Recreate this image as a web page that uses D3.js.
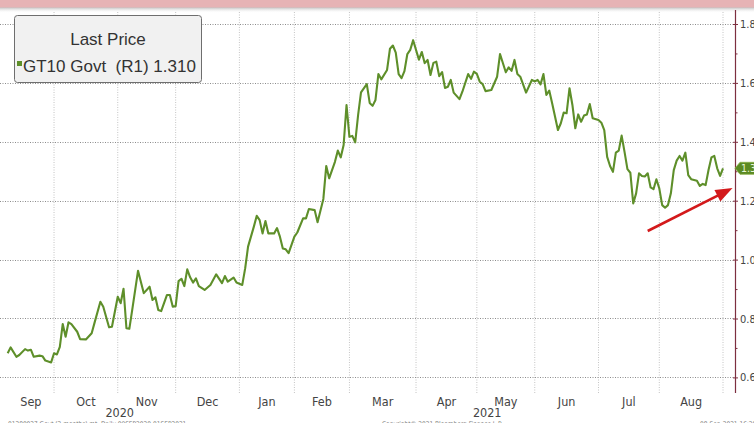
<!DOCTYPE html>
<html><head><meta charset="utf-8">
<script src="https://cdn.jsdelivr.net/npm/d3@7"></script>
<style>body{margin:0;background:#fff;overflow:hidden} svg{display:block}</style>
</head><body><svg id="c" width="754" height="423"></svg>
<script>
// ---- data ----
const dates = [
"2020-09-09","2020-09-10","2020-09-14","2020-09-15","2020-09-17","2020-09-18","2020-09-21","2020-09-22","2020-09-24","2020-09-25","2020-09-28","2020-09-30",
"2020-10-01","2020-10-02","2020-10-05","2020-10-06","2020-10-07","2020-10-08","2020-10-09","2020-10-13","2020-10-14","2020-10-16","2020-10-20","2020-10-21","2020-10-23","2020-10-26","2020-10-28","2020-10-29",
"2020-11-02","2020-11-03","2020-11-04","2020-11-05","2020-11-06","2020-11-09","2020-11-11","2020-11-13","2020-11-17","2020-11-18","2020-11-19","2020-11-20","2020-11-23","2020-11-25","2020-11-27","2020-11-30",
"2020-12-01","2020-12-02","2020-12-03","2020-12-04","2020-12-07","2020-12-08","2020-12-09","2020-12-10","2020-12-11","2020-12-15","2020-12-17","2020-12-21","2020-12-23","2020-12-24","2020-12-28","2020-12-30","2020-12-31",
"2021-01-05","2021-01-06","2021-01-07","2021-01-11","2021-01-12","2021-01-13","2021-01-14","2021-01-15","2021-01-19","2021-01-21","2021-01-22","2021-01-25","2021-01-26","2021-01-27","2021-01-28","2021-01-29",
"2021-02-01","2021-02-02","2021-02-04","2021-02-05","2021-02-08","2021-02-10","2021-02-11","2021-02-16","2021-02-17","2021-02-18","2021-02-22","2021-02-23","2021-02-24","2021-02-25","2021-02-26",
"2021-03-01","2021-03-02","2021-03-03","2021-03-04","2021-03-05","2021-03-09","2021-03-10","2021-03-11","2021-03-12","2021-03-15","2021-03-16","2021-03-18","2021-03-19","2021-03-22","2021-03-23","2021-03-24","2021-03-25","2021-03-26","2021-03-29","2021-03-30","2021-03-31",
"2021-04-05","2021-04-06","2021-04-07","2021-04-08","2021-04-09","2021-04-12","2021-04-13","2021-04-14","2021-04-15","2021-04-16","2021-04-19","2021-04-20","2021-04-21","2021-04-23","2021-04-26","2021-04-28","2021-04-29","2021-04-30",
"2021-05-03","2021-05-04","2021-05-05","2021-05-06","2021-05-10","2021-05-12","2021-05-13","2021-05-17","2021-05-18","2021-05-19","2021-05-20","2021-05-21","2021-05-24","2021-05-26","2021-05-28",
"2021-06-01","2021-06-02","2021-06-03","2021-06-04","2021-06-07","2021-06-08","2021-06-09","2021-06-11","2021-06-14","2021-06-15","2021-06-16","2021-06-17","2021-06-18","2021-06-21","2021-06-22","2021-06-23","2021-06-24","2021-06-25","2021-06-28","2021-06-29",
"2021-07-01","2021-07-02","2021-07-06","2021-07-07","2021-07-08","2021-07-09","2021-07-12","2021-07-13","2021-07-14","2021-07-15","2021-07-16","2021-07-19","2021-07-20","2021-07-21","2021-07-22","2021-07-23","2021-07-26","2021-07-27","2021-07-28","2021-07-29","2021-07-30",
"2021-08-02","2021-08-03","2021-08-04","2021-08-05","2021-08-06","2021-08-09","2021-08-10","2021-08-11","2021-08-12","2021-08-13","2021-08-16","2021-08-17","2021-08-19","2021-08-20","2021-08-23","2021-08-24","2021-08-25","2021-08-26","2021-08-27","2021-08-30","2021-08-31",
"2021-09-01"
];
const values = [
0.682,0.702,0.670,0.676,0.696,0.691,0.694,0.670,0.674,0.672,0.657,0.651,
0.682,0.678,0.704,0.781,0.738,0.787,0.781,0.755,0.730,0.729,0.750,0.786,0.857,0.840,0.770,0.772,
0.874,0.852,0.901,0.767,0.765,0.829,0.962,0.886,0.908,0.863,0.872,0.829,0.825,0.880,0.880,0.840,
0.842,0.927,0.935,0.910,0.967,0.940,0.922,0.936,0.910,0.897,0.914,0.950,0.920,0.944,0.925,0.939,0.922,
0.914,0.970,1.044,1.112,1.149,1.134,1.089,1.131,1.089,1.089,1.107,1.078,1.038,1.035,1.022,1.050,
1.078,1.092,1.140,1.140,1.172,1.168,1.127,1.206,1.318,1.276,1.332,1.370,1.347,1.389,1.525,
1.417,1.420,1.398,1.491,1.568,1.596,1.532,1.522,1.542,1.630,1.612,1.644,1.716,1.727,1.703,1.630,1.616,1.640,1.698,1.712,1.745,
1.679,1.705,1.667,1.678,1.627,1.668,1.672,1.623,1.637,1.583,1.587,1.610,1.567,1.545,1.570,1.630,1.614,1.638,
1.631,1.604,1.596,1.572,1.576,1.621,1.698,1.636,1.653,1.641,1.678,1.630,1.621,1.567,1.610,
1.605,1.610,1.595,1.630,1.559,1.574,1.531,1.440,1.463,1.499,1.497,1.582,1.525,1.446,1.493,1.468,1.489,1.493,1.528,1.480,
1.474,1.465,1.440,1.349,1.318,1.298,1.363,1.370,1.421,1.366,1.307,1.295,1.191,1.225,1.293,1.284,1.282,1.293,1.245,1.239,1.273,
1.242,1.185,1.176,1.185,1.225,1.304,1.336,1.352,1.336,1.363,1.287,1.273,1.268,1.250,1.257,1.253,1.304,1.347,1.352,1.310,1.284,
1.310
];
const monthLabels = ["Sep","Oct","Nov","Dec","Jan","Feb","Mar","Apr","May","Jun","Jul","Aug"];
const yearLabels = ["2020","2021"];
const yTicks = [0.6,0.8,1.0,1.2,1.4,1.6,1.8];
const yMinorTicks = [0.7,0.9,1.1,1.3,1.5,1.7];
const holidays = ["2020-11-26","2020-12-25","2021-01-01","2021-01-18","2021-02-15","2021-04-02","2021-05-31","2021-07-05"];
const seriesName = "GT10 Govt";
const seriesTag = "(R1)";
const lastPrice = 1.310;
const legendTitle = "Last Price";
const arrowFrom = ["2021-07-27", 1.097];
const arrowTo = [250.3, 1.243]; // trading-day position, value

// ---- layout ----
const W = 754, H = 423;
const plotL = 0, plotR = 735, plotT = 10, plotB = 393;
const svg = d3.select("#c");
const fmt = d3.utcFormat("%Y-%m-%d");
const parse = d3.utcParse("%Y-%m-%d");

// trading calendar
const hol = new Set(holidays);
const tradingDays = d3.utcDay.range(parse(dates[0]), d3.utcDay.offset(parse(dates[dates.length-1]),1))
  .filter(d => d.getUTCDay() !== 0 && d.getUTCDay() !== 6 && !hol.has(fmt(d)));
const idx = new Map(tradingDays.map((d,i)=>[fmt(d), i]));

const x = d3.scaleLinear().domain([0, tradingDays.length-1]).range([7.7, 723]);
const y = d3.scaleLinear().domain([0.6, 1.8]).range([377.4, 24]);

const data = dates.map((d,i)=>({t: idx.get(d), v: values[i]}));

// background
svg.append("rect").attr("width",W).attr("height",H).attr("fill","#fff");
const defs = svg.append("defs");
const g1 = defs.append("linearGradient").attr("id","sh").attr("x1",0).attr("x2",0).attr("y1",0).attr("y2",1);
g1.append("stop").attr("offset","0%").attr("stop-color","#9a9a9a").attr("stop-opacity",0.7);
g1.append("stop").attr("offset","100%").attr("stop-color","#ffffff").attr("stop-opacity",0);
svg.append("rect").attr("x",0).attr("y",7).attr("width",W).attr("height",6).attr("fill","url(#sh)");
svg.append("rect").attr("x",0).attr("y",0).attr("width",W).attr("height",7.5).attr("fill","#e6b3b5");

// month boundaries
const bounds = [];
for (let i=1;i<tradingDays.length;i++){
  if (tradingDays[i].getUTCMonth() !== tradingDays[i-1].getUTCMonth()) bounds.push(i);
}
// vertical grid
svg.append("g").selectAll("line").data(bounds).join("line")
  .attr("x1",d=>x(d)).attr("x2",d=>x(d)).attr("y1",12).attr("y2",plotB)
  .attr("stroke","#c4c4c4").attr("stroke-width",1).attr("stroke-dasharray","1,1.5");
// horizontal grid
svg.append("g").selectAll("line").data(yTicks).join("line")
  .attr("x1",plotL).attr("x2",plotR).attr("y1",d=>Math.round(y(d))+0.5).attr("y2",d=>Math.round(y(d))+0.5)
  .attr("stroke","#8c8c8c").attr("stroke-width",1).attr("stroke-dasharray","1,1.5");

// line
defs.append("clipPath").attr("id","clip").append("rect")
  .attr("x",plotL).attr("y",plotT).attr("width",plotR-plotL).attr("height",plotB-plotT);
svg.append("path").datum(data)
  .attr("clip-path","url(#clip)")
  .attr("d", d3.line().x(d=>x(d.t)).y(d=>y(d.v)))
  .attr("fill","none").attr("stroke","#5e8f2a").attr("stroke-width",2.1).attr("stroke-linejoin","round");

// month labels
const segs = [0, ...bounds];
const mFont = "'Liberation Sans Narrow','DejaVu Sans Condensed','Arial Narrow',sans-serif";
svg.append("g").selectAll("text").data(monthLabels).join("text")
  .attr("x",(d,i)=>(x(segs[i]) + x(segs[i+1]))/2).attr("y",406)
  .attr("text-anchor","middle").attr("font-family",mFont).attr("font-size",12.5).attr("fill","#444")
  .text(d=>d);
const janIdx = bounds[3];
const yearX = [(plotL + x(janIdx))/2, (x(janIdx)+plotR)/2];
svg.append("g").selectAll("text").data(yearLabels).join("text")
  .attr("x",(d,i)=>yearX[i]).attr("y",417)
  .attr("text-anchor","middle").attr("font-family",mFont).attr("font-size",12.5).attr("fill","#444")
  .text(d=>d);

// right axis
const ax = svg.append("g").attr("transform",`translate(${plotR},0)`);
ax.append("line").attr("x1",0.5).attr("x2",0.5).attr("y1",plotT).attr("y2",plotB).attr("stroke","#7d2f40").attr("stroke-width",1.2);
ax.call(d3.axisRight(y).tickValues(yTicks).tickFormat(d3.format(".2f")).tickSize(3).tickPadding(2))
  .call(g=>g.select(".domain").remove())
  .call(g=>g.selectAll(".tick line").attr("stroke","#7d2f40").attr("x1",-2))
  .call(g=>g.selectAll(".tick text").attr("font-family",mFont).attr("font-size",11).attr("fill","#444"));
const ax2 = svg.append("g").attr("transform",`translate(${plotR},0)`);
ax2.call(d3.axisRight(y).tickValues(yMinorTicks).tickFormat("").tickSize(2.5))
  .call(g=>g.select(".domain").remove())
  .call(g=>g.selectAll(".tick line").attr("stroke","#7d2f40"));

// last price tag
const ly = y(lastPrice);
const tag = svg.append("g").attr("transform",`translate(${plotR},${ly})`);
tag.append("path").attr("d","M0,0 L5,-6 L22,-6 L22,6 L5,6 Z").attr("fill","#5b8a22").attr("stroke","#8ab04a").attr("stroke-width",0.8);
tag.append("text").attr("x",6).attr("y",3.8).attr("font-family",mFont).attr("font-size",10.5).attr("fill","#eaf6d8")
  .text(d3.format(".2f")(lastPrice));

// red arrow annotation
const ax0 = x(idx.get(arrowFrom[0])), ay0 = y(arrowFrom[1]);
const ax1 = x(arrowTo[0]), ay1 = y(arrowTo[1]);
const dx = ax1-ax0, dy = ay1-ay0, L = Math.hypot(dx,dy), ux = dx/L, uy = dy/L;
const hl = 17, hw = 6.5;
const bx = ax1-ux*hl, by = ay1-uy*hl;
svg.append("line").attr("x1",ax0).attr("y1",ay0).attr("x2",bx+ux*2).attr("y2",by+uy*2)
  .attr("stroke","#d3191b").attr("stroke-width",2.6);
svg.append("path").attr("d",`M${ax1},${ay1} L${bx-uy*hw},${by+ux*hw} L${bx+uy*hw},${by-ux*hw} Z`).attr("fill","#d3191b");

// legend
const lg = svg.append("g");
lg.append("rect").attr("x",14.5).attr("y",15.5).attr("width",187).attr("height",67).attr("rx",3)
  .attr("fill","#f1f1f1").attr("stroke","#6e6e6e").attr("stroke-width",1);
const lFont = "'Liberation Sans',Arial,sans-serif";
lg.append("text").attr("x",108).attr("y",45).attr("text-anchor","middle").attr("font-family",lFont)
  .attr("font-size",17).attr("fill","#333").text(legendTitle);
lg.append("rect").attr("x",17).attr("y",61).attr("width",5).attr("height",5).attr("fill","#5e8f2a");
lg.append("text").attr("x",23).attr("y",72).attr("font-family",lFont).attr("font-size",17).attr("fill","#333")
  .attr("xml:space","preserve").style("white-space","pre")
  .text(`${seriesName}  ${seriesTag} ${d3.format(".3f")(lastPrice)}`);

// footer
const fF = "'Liberation Sans Narrow','DejaVu Sans Condensed',sans-serif";
svg.append("text").attr("x",8).attr("y",425.5).attr("font-family",fF).attr("font-size",6.5).attr("fill","#777")
  .text("01280027 Govt (2 months) mt, Daily 09SEP2020-01SEP2021");
svg.append("text").attr("x",382).attr("y",425.5).attr("font-family",fF).attr("font-size",6.5).attr("fill","#777")
  .text("Copyright© 2021 Bloomberg Finance L.P.");
svg.append("text").attr("x",700).attr("y",425.5).attr("font-family",fF).attr("font-size",6.5).attr("fill","#777")
  .text("08-Sep-2021 16:20:19");
</script></body></html>
